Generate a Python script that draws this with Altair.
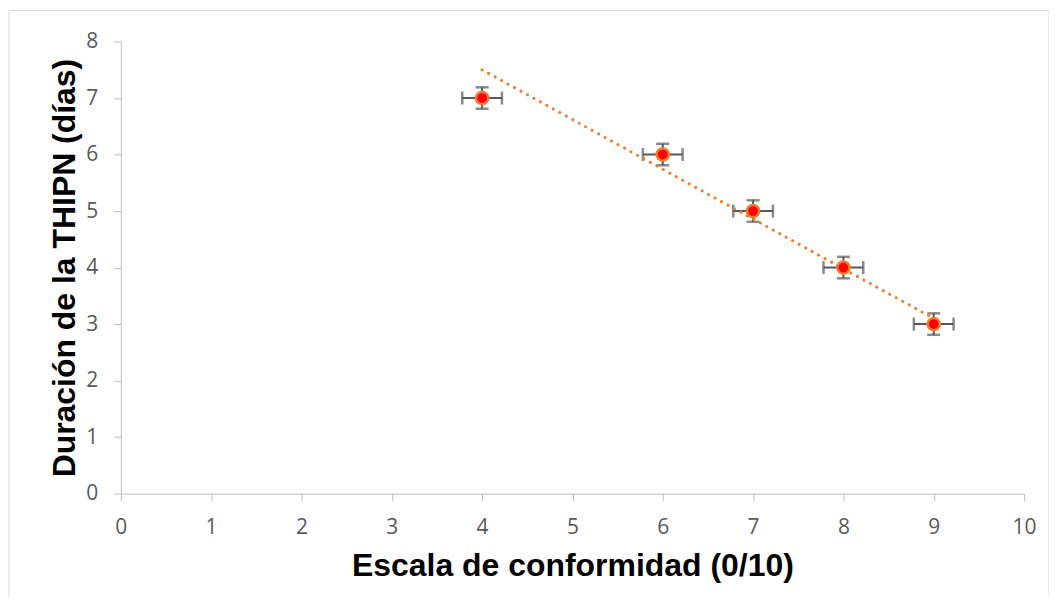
import altair as alt
import pandas as pd

# data
conformidad = [4, 6, 7, 8, 9]
duracion = [7, 6, 5, 4, 3]
x_err = [0.22, 0.22, 0.22, 0.22, 0.22]
y_err = [0.19, 0.19, 0.19, 0.19, 0.19]
trend_x = [4, 9]
trend_y = [7.5, 3.1]

df = pd.DataFrame({"x": conformidad, "y": duracion, "xe": x_err, "ye": y_err})
df["xlo"] = df["x"] - df["xe"]
df["xhi"] = df["x"] + df["xe"]
df["ylo"] = df["y"] - df["ye"]
df["yhi"] = df["y"] + df["ye"]
trend = pd.DataFrame({"x": trend_x, "y": trend_y})

label_font = "Open Sans"
title_font = "Liberation Sans"
err_col = "#595959"

xscale = alt.Scale(domain=[0, 10], nice=False, zero=True)
yscale = alt.Scale(domain=[0, 8], nice=False, zero=True)

xax = alt.Axis(values=list(range(0, 11)), format="d", grid=False, domainColor="#bfbfbf",
               tickColor="#bfbfbf", tickSize=7, labelColor="#595959", labelFont=label_font,
               labelFontSize=21, labelPadding=16, labelFlush=False,
               title="Escala de conformidad (0/10)",
               titleFont=title_font, titleFontSize=32, titleFontWeight="bold",
               titleColor="#000000", titlePadding=13)
yax = alt.Axis(values=list(range(0, 9)), format="d", grid=False, domainColor="#bfbfbf",
               tickColor="#bfbfbf", tickSize=7, labelColor="#595959", labelFont=label_font,
               labelFontSize=21, labelPadding=16, labelFlush=False,
               title="Duración de la THIPN (días)",
               titleFont=title_font, titleFontSize=32, titleFontWeight="bold",
               titleColor="#000000", titlePadding=4)

base = alt.Chart(df)

hbar = base.mark_rule(color=err_col, strokeWidth=2).encode(
    x=alt.X("xlo:Q", scale=xscale, axis=xax), x2="xhi:Q",
    y=alt.Y("y:Q", scale=yscale, axis=yax))
vbar = base.mark_rule(color=err_col, strokeWidth=2).encode(
    x=alt.X("x:Q", scale=xscale), y=alt.Y("ylo:Q", scale=yscale), y2="yhi:Q")
capl = base.mark_tick(color=err_col, orient="vertical", size=13, thickness=2.5).encode(
    x=alt.X("xlo:Q", scale=xscale), y=alt.Y("y:Q", scale=yscale))
capr = base.mark_tick(color=err_col, orient="vertical", size=13, thickness=2.5).encode(
    x=alt.X("xhi:Q", scale=xscale), y=alt.Y("y:Q", scale=yscale))
capb = base.mark_tick(color=err_col, orient="horizontal", size=13, thickness=2.5).encode(
    x=alt.X("x:Q", scale=xscale), y=alt.Y("ylo:Q", scale=yscale))
capt = base.mark_tick(color=err_col, orient="horizontal", size=13, thickness=2.5).encode(
    x=alt.X("x:Q", scale=xscale), y=alt.Y("yhi:Q", scale=yscale))

trendline = alt.Chart(trend).mark_line(color="#ED7D31", strokeWidth=3, strokeDash=[0.1, 7.3],
                                       strokeCap="round").encode(
    x=alt.X("x:Q", scale=xscale), y=alt.Y("y:Q", scale=yscale))

points = base.mark_point(filled=True, fill="#FF0000", stroke="#ED7D31", strokeWidth=2.5,
                         size=150, opacity=1, shape="circle").encode(
    x=alt.X("x:Q", scale=xscale), y=alt.Y("y:Q", scale=yscale))

border = alt.Chart(pd.DataFrame({"a": [0]})).mark_rect(fill=None, stroke="#d9d9d9",
                                                      strokeWidth=1).encode(
    x=alt.value(-112), x2=alt.value(930), y=alt.value(-31), y2=alt.value(563))

chart = alt.layer(border, hbar, vbar, capl, capr, capb, capt, trendline, points).properties(
    width=905, height=453,
    autosize=alt.AutoSizeParams(type="none"),
    padding={"left": 113, "top": 33, "right": 25, "bottom": 103},
).configure(background="white").configure_view(stroke=None)

chart.save("out.html", embed_options={"renderer": "svg", "actions": False})
